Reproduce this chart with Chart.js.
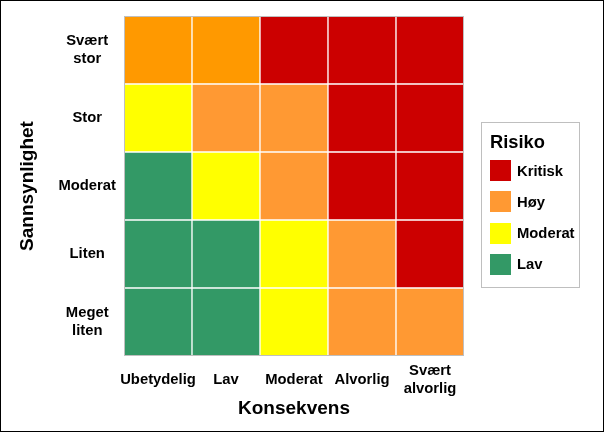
<!DOCTYPE html>
<html>
<head>
<meta charset="utf-8">
<script src="https://cdn.jsdelivr.net/npm/chart.js@4"></script>
<style>
  body { margin: 0; background: #fff; font-family: "Liberation Sans", Arial, sans-serif; }
  #frame { position: relative; width: 604px; height: 432px; border: 1px solid #000; box-sizing: border-box; }
  #legend { position: absolute; left: 480px; top: 121px; width: 99px; height: 166px; border: 1px solid #bfbfbf; box-sizing: border-box; padding: 8px 0 0 8px; }
  #legend .title { font-weight: bold; font-size: 18.3px; line-height: 21px; margin-bottom: 8px; }
  #legend .item { display: flex; align-items: center; height: 21px; margin-bottom: 10.3px; font-weight: bold; font-size: 14.8px; }
  #legend .box { width: 21px; height: 21px; margin-right: 6px; }
</style>
</head>
<body>
<div id="frame">
  <canvas id="riskMatrix" width="602" height="430"></canvas>
  <div id="legend"></div>
</div>
<script>
// konsekvens (x) and sannsynlighet (y, bottom row first)
var consequences = ['Ubetydelig', 'Lav', 'Moderat', 'Alvorlig', ['Svært', 'alvorlig']];
var likelihoods = [['Meget', 'liten'], 'Liten', 'Moderat', 'Stor', ['Svært', 'stor']];

var riskLevels = ['Kritisk', 'Høy', 'Moderat', 'Lav'];
var riskColors = ['#cc0000', '#ff9933', '#ffff00', '#339966'];

// risk level of each cell, one list per likelihood row
var rowMegetLiten = ['Lav', 'Lav', 'Moderat', 'Høy', 'Høy'];
var rowLiten = ['Lav', 'Lav', 'Moderat', 'Høy', 'Kritisk'];
var rowModerat = ['Lav', 'Moderat', 'Høy', 'Kritisk', 'Kritisk'];
var rowStor = ['Moderat', 'Høy', 'Høy', 'Kritisk', 'Kritisk'];
var rowSvaertStor = ['Høy', 'Høy', 'Kritisk', 'Kritisk', 'Kritisk'];
var rows = [rowMegetLiten, rowLiten, rowModerat, rowStor, rowSvaertStor];

function cellColor(rowIndex, risk) {
    // the top row orange is a bit stronger in the original
    if (rowIndex == 4 && risk == 'Høy') return '#ff9900';
    return riskColors[riskLevels.indexOf(risk)];
}

var datasets = rows.map((row, i) => ({
    label: Array.isArray(likelihoods[i]) ? likelihoods[i].join(' ') : likelihoods[i],
    data: row.map(() => 1),
    backgroundColor: row.map((risk) => cellColor(i, risk)),
    borderColor: '#ffffff',
    borderWidth: 1,
    borderSkipped: false,
    barPercentage: 1,
    categoryPercentage: 1
}));

var plotBorder = {
    id: 'plotBorder',
    afterDatasetsDraw(chart) {
        var a = chart.chartArea;
        var ctx = chart.ctx;
        ctx.save();
        ctx.strokeStyle = '#bfbfbf';
        ctx.lineWidth = 1;
        ctx.strokeRect(a.left + 0.5, a.top + 0.5, a.right - a.left - 1, a.bottom - a.top - 1);
        ctx.restore();
    }
};

Chart.defaults.font.family = '"Liberation Sans", Arial, sans-serif';
Chart.defaults.color = '#000';

var tickFont = { size: 14.8, weight: 'bold' };
var titleFont = { size: 19, weight: 'bold' };

var ctx = document.getElementById('riskMatrix').getContext('2d');
var chart = new Chart(ctx, {
    type: 'bar',
    data: { labels: consequences, datasets: datasets },
    options: {
        responsive: false,
        animation: false,
        events: [],
        layout: { padding: { left: 15.6, right: 139, top: 15, bottom: 10.5 } },
        plugins: { legend: { display: false }, tooltip: { enabled: false } },
        scales: {
            x: {
                stacked: true,
                grid: { display: false, drawTicks: false },
                border: { display: false },
                ticks: { font: tickFont, padding: 15, crossAlign: 'center', maxRotation: 0, autoSkip: false },
                title: { display: true, text: 'Konsekvens', font: titleFont, padding: { top: 0, bottom: 0 } },
                afterFit: (scale) => {
                    scale.height = 64.5;
                    scale.paddingLeft = 0;
                    scale.paddingRight = 0;
                }
            },
            y: {
                stacked: true,
                min: 0,
                max: 5,
                grid: { display: false, drawTicks: false },
                border: { display: false },
                afterBuildTicks: (axis) => {
                    axis.ticks = likelihoods.map((_, i) => ({ value: i + 0.5 }));
                },
                ticks: {
                    font: tickFont,
                    padding: 8,
                    crossAlign: 'center',
                    callback: (value) => likelihoods[Math.floor(value)]
                },
                title: { display: true, text: 'Sannsynlighet', font: titleFont, padding: { top: 0, bottom: 0 } },
                afterFit: (scale) => {
                    scale.width = 107.4;
                    scale.paddingTop = 0;
                    scale.paddingBottom = 0;
                }
            }
        }
    },
    plugins: [plotBorder]
});

// legend
var legend = document.getElementById('legend');
var html = '<div class="title">Risiko</div>';
riskLevels.forEach((level, i) => {
    html += '<div class="item"><span class="box" style="background:' + riskColors[i] + '"></span>' + level + '</div>';
});
legend.innerHTML = html;
</script>
</body>
</html>
